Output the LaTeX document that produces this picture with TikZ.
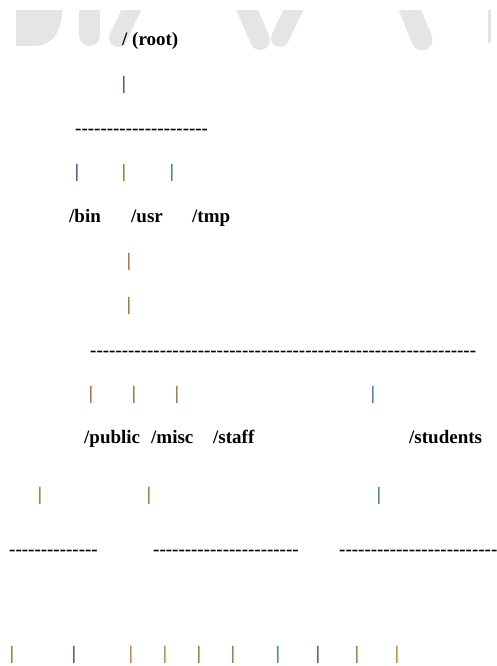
\documentclass[tikz,border=0pt]{standalone}
\usepackage{fontspec}
\setmainfont{Liberation Serif}
\definecolor{wm}{HTML}{E5E5E5}
\definecolor{purp}{HTML}{5A2D80}
\definecolor{brn}{HTML}{9A6420}
\definecolor{org}{HTML}{B87A18}
\definecolor{blu}{HTML}{2A6EA8}
\newcommand\hyphs[1]{\foreach \k in {1,...,#1}{-\kern0pt}}
\begin{document}
\begin{tikzpicture}[x=1pt,y=-1pt,
  lbl/.style={anchor=base west,inner sep=0pt,font=\fontsize{19}{22}\selectfont\bfseries},
  barc/.style={anchor=center,inner sep=0pt,font=\fontsize{19}{22}\selectfont\bfseries,text=#1},
  dashrow/.style={anchor=west,inner sep=0pt,font=\fontsize{19}{22}\selectfont\bfseries},
  wmline/.style={wm,line cap=round}]
\useasboundingbox (0,0) rectangle (496,666);
% watermark
\begin{scope}
\clip (0,11) rectangle (496,666);
\fill[wm] (16,0) -- (16,46) -- (34,46) .. controls (54,46) and (63,30) .. (63,0) -- cycle;
\draw[wmline,line width=21pt] (89.5,0) -- (89.5,35.5);
\draw[wmline,line width=18pt] (136,0) -- (118,38);
\draw[wmline,line width=20pt] (243,0) -- (260,40);
\draw[wmline,line width=18pt] (298,0) -- (280,38);
\draw[wmline,line width=21pt] (406,0) -- (422,40);
\fill[wm] (488,0) rectangle (491,43);
\end{scope}
% level 0
\node[lbl] (root) at (122,46) {/ (root)};
\node[barc=purp] (b0) at (124,84.5) {|};
\node[dashrow] (d1) at (75,132) {\hyphs{21}};
\node[barc=purp] (b1a) at (77,172.5) {|};
\node[barc=brn] (b1b) at (124,172.5) {|};
\node[barc=blu] (b1c) at (172,172.5) {|};
\node[lbl] (bin) at (69,222) {/bin};
\node[lbl] (usr) at (131,222) {/usr};
\node[lbl] (tmp) at (192,222) {/tmp};
\node[barc=brn] (b2a) at (129,261.5) {|};
\node[barc=brn] (b2b) at (129,306) {|};
\node[dashrow] (d2) at (90,354) {\hyphs{61}};
\node[barc=brn] (b3a) at (91,395) {|};
\node[barc=brn] (b3b) at (134,395) {|};
\node[barc=brn] (b3c) at (177,395) {|};
\node[barc=blu] (b3d) at (373,395) {|};
\node[lbl] (public) at (84,443) {/public};
\node[lbl] (misc) at (151,443) {/misc};
\node[lbl] (staff) at (213,443) {/staff};
\node[lbl] (students) at (409,443) {/students};
\node[barc=brn] (b4a) at (40,495.5) {|};
\node[barc=brn] (b4b) at (149,495.5) {|};
\node[barc=blu] (b4c) at (379,495.5) {|};
\node[dashrow] (d3a) at (9,553) {\hyphs{14}};
\node[dashrow] (d3b) at (153,553) {\hyphs{23}};
\node[dashrow] (d3c) at (339,553) {\hyphs{25}};
\node[barc=brn] (c1) at (12,654.5) {|};
\node[barc=purp] (c2) at (74,654.5) {|};
\node[barc=org] (c3) at (131,654.5) {|};
\node[barc=org] (c4) at (165,654.5) {|};
\node[barc=brn] (c5) at (199,654.5) {|};
\node[barc=brn] (c6) at (233,654.5) {|};
\node[barc=blu] (c7) at (278,654.5) {|};
\node[barc=purp] (c8) at (318,654.5) {|};
\node[barc=brn] (c9) at (357,654.5) {|};
\node[barc=org] (c10) at (397,654.5) {|};
\end{tikzpicture}
\end{document}
